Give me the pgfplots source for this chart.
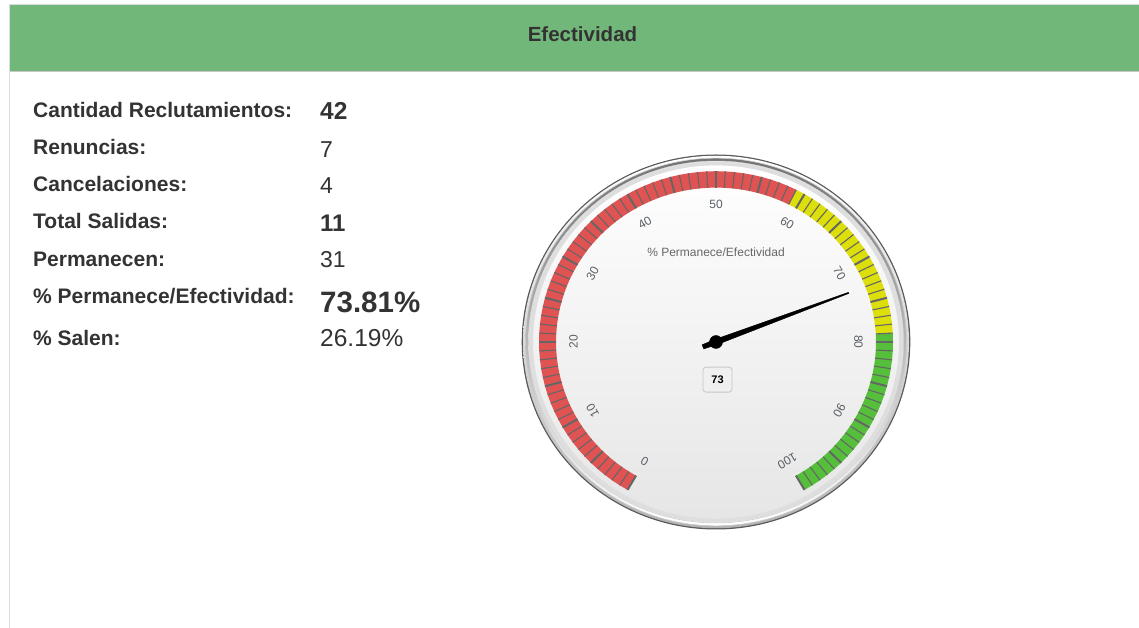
\documentclass[border=0pt]{standalone}
\usepackage{pgfplots}
\pgfplotsset{compat=1.18}
\usepackage{pgfplotstable}
\usepackage{fontspec}
\setmainfont{Liberation Sans}
\definecolor{hdr}{HTML}{72B77A}
\definecolor{bred}{HTML}{DF5353}
\definecolor{byel}{HTML}{DDDF0D}
\definecolor{bgrn}{HTML}{55BF3B}
\definecolor{tk}{HTML}{666666}
\definecolor{txt}{HTML}{333333}
\definecolor{lbl}{HTML}{5A5F66}
\definecolor{brd}{HTML}{DDDDDD}

% needle: value, radius along the dial, offset across it
\pgfplotstableread{
v r o
73 -14 -2.3
73 0 -2.9
73 142 -0.6
73 142 0.6
73 0 2.9
73 -14 2.3
}\needle

\newcommand\fs[1]{\fontsize{#1}{#1}\selectfont}
\newcommand\ring[1]{(axis cs:0,0) ellipse [x radius=#1pt, y radius=0.965*#1pt]}
% band between values #2 and #3
\newcommand\band[3]{%
  \fill[#1] (axis cs:{177*cos(240-3*#2)},{177*sin(240-3*#2)})
    \foreach \v in {#2,...,#3} { -- (axis cs:{177*cos(240-3*\v)},{177*sin(240-3*\v)}) }
    \foreach \v in {#3,...,#2} { -- (axis cs:{160*cos(240-3*\v)},{160*sin(240-3*\v)}) }
    -- cycle;}

\begin{document}
\begin{tikzpicture}
\useasboundingbox (0,0) rectangle (1139pt,628pt);
% ---------------- canvas (pixel coordinates) ----------------
\begin{axis}[name=canvas, at={(0pt,0pt)}, anchor=south west,
  scale only axis, width=1139pt, height=628pt,
  xmin=0, xmax=1139, ymin=0, ymax=628, y dir=reverse,
  hide axis, clip=false]
\pgfplotsextra{
  \fill[white] (axis cs:0,0) rectangle (axis cs:1139,628);
  \fill[hdr] (axis cs:9.5,5) rectangle (axis cs:1139,72);
  \draw[brd, line width=1pt] (axis cs:9.5,4.5) -- (axis cs:1139,4.5);
  \draw[brd!90!black, line width=1pt] (axis cs:9.5,72) -- (axis cs:1139,72);
  \draw[brd, line width=1.5pt] (axis cs:9.5,4) -- (axis cs:9.5,628);
}
\node[anchor=base, text=txt, font=\bfseries\fs{20.5}] at (axis cs:582.5,42) {Efectividad};
\begin{scope}[every node/.style={anchor=base west, text=txt, inner sep=0pt}]
\node[font=\bfseries\fs{21}] at (axis cs:33,118) {Cantidad Reclutamientos:};
\node[font=\bfseries\fs{21}] at (axis cs:33,155) {Renuncias:};
\node[font=\bfseries\fs{21}] at (axis cs:33,192) {Cancelaciones:};
\node[font=\bfseries\fs{21}] at (axis cs:33,229) {Total Salidas:};
\node[font=\bfseries\fs{21}] at (axis cs:33,266) {Permanecen:};
\node[font=\bfseries\fs{21}] at (axis cs:33,303) {\% Permanece/Efectividad:};
\node[font=\bfseries\fs{21}] at (axis cs:33,345) {\% Salen:};
\node[font=\bfseries\fs{24.5}] at (axis cs:320,120) {42};
\node[font=\fs{23}] at (axis cs:320,158) {7};
\node[font=\fs{23}] at (axis cs:320,194) {4};
\node[font=\bfseries\fs{24}] at (axis cs:320,232) {11};
\node[font=\fs{23}] at (axis cs:320,267) {31};
\node[font=\bfseries\fs{29.5}] at (axis cs:320,312) {73.81\%};
\node[font=\fs{24.5}] at (axis cs:320,346) {26.19\%};
\end{scope}
\end{axis}
% ---------------- gauge ----------------
\begin{axis}[name=gauge, at={(716pt,286pt)}, anchor=center,
  scale only axis, width=400pt, height=386pt,
  xmin=-200, xmax=200, ymin=-200, ymax=200,
  hide axis, clip=false]
\pgfplotsextra{
  \fill[black!65] \ring{194.3};
  \shade[top color=white, bottom color=black!30] \ring{193};
  \shade[top color=black!55, bottom color=white, draw=black!20, line width=0.6pt] \ring{190.5};
  \shade[top color=white, bottom color=black!10, draw=black!18, line width=0.6pt] \ring{187.5};
  \fill[black!13, even odd rule] \ring{187} \ring{183};
  \band{bred}{0}{59}
  \band{byel}{59}{79}
  \band{bgrn}{79}{100}
  \foreach \v in {0,...,100} {
    \pgfmathsetmacro\a{240-3*\v}
    \draw[tk, line width=1.1pt] (axis cs:{160*cos(\a)},{160*sin(\a)}) -- (axis cs:{177*cos(\a)},{177*sin(\a)});
  }
  \foreach \v in {0,5,...,100} {
    \pgfmathsetmacro\a{240-3*\v}
    \draw[tk, line width=2pt] (axis cs:{160*cos(\a)},{160*sin(\a)}) -- (axis cs:{177*cos(\a)},{177*sin(\a)});
  }
  \foreach \v in {0,10,...,100} {
    \pgfmathsetmacro\a{240-3*\v}
    \node[text=lbl, font=\fs{12}, rotate=\a-90, inner sep=0pt] at (axis cs:{142.5*cos(\a)},{142.5*sin(\a)}) {\v};
  }
  \node[text=tk, font=\fs{12}] at (axis cs:0,93) {\% Permanece/Efectividad};
  \node[draw=black!22, rounded corners=3pt, minimum width=29pt, minimum height=25pt, text=black, font=\bfseries\fs{11}, line width=0.8pt] at (axis cs:1.5,-39) {73};
}
\addplot[fill=black, draw=black, line width=0.4pt]
  table[x expr={\thisrow{r}*cos(240-3*\thisrow{v}) - (\thisrow{o})*sin(240-3*\thisrow{v})},
        y expr={\thisrow{r}*sin(240-3*\thisrow{v}) + (\thisrow{o})*cos(240-3*\thisrow{v})}] {\needle} -- cycle;
\addplot[only marks, mark=*, mark size=6.5pt, black] coordinates {(0,0)};
\end{axis}
\end{tikzpicture}
\end{document}
